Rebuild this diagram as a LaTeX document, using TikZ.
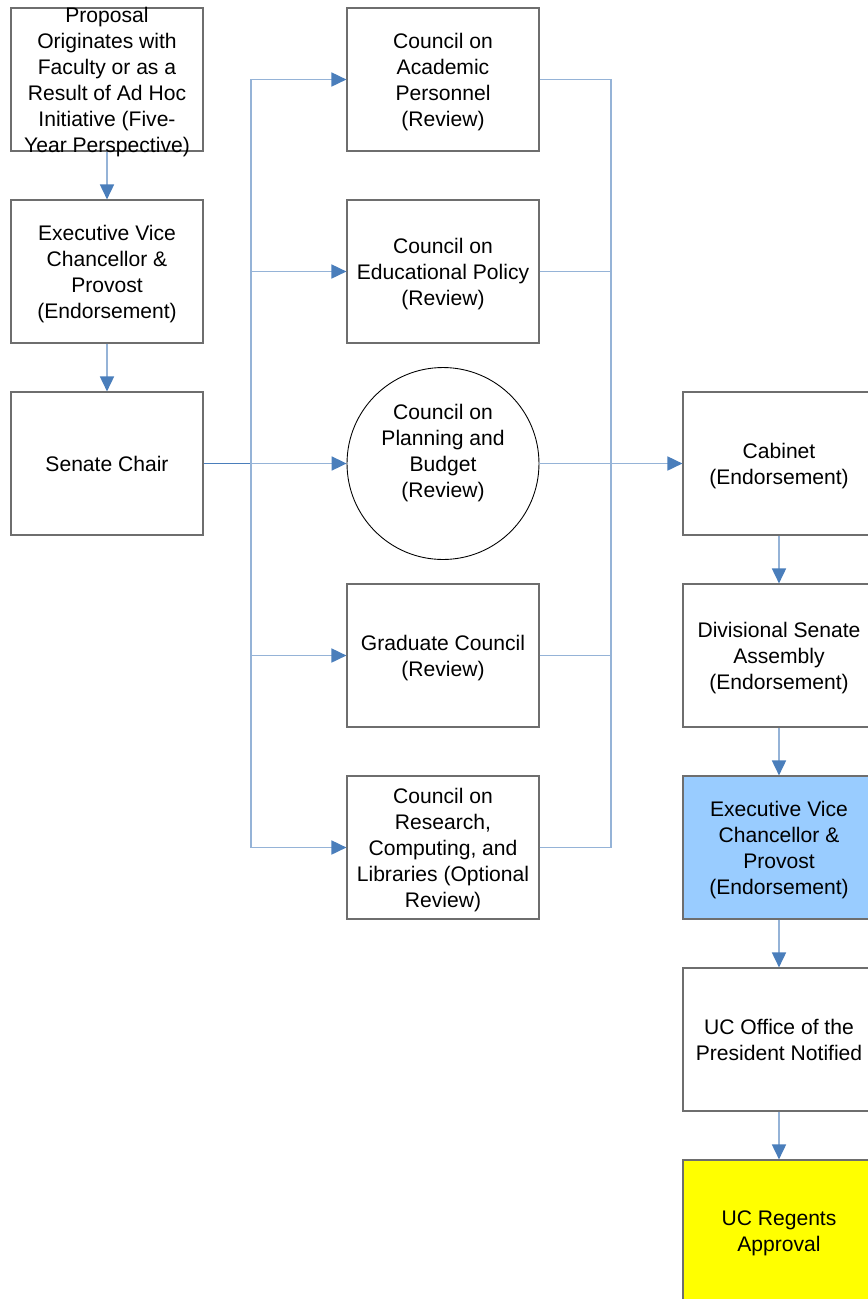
\documentclass[tikz,border=0pt]{standalone}
\usepackage{fontspec}
\setmainfont{Liberation Sans}
\usetikzlibrary{arrows.meta}
\begin{document}
\begin{tikzpicture}[x=0.02cm, y=-0.02cm,
  box/.style={draw=BoxGray, line width=0.7pt, minimum width=3.84cm, minimum height=2.86cm,
    align=center, inner sep=2pt, text depth=0pt, font=\fontsize{12}{14.8}\selectfont},
  round/.style={box, circle, draw=black, line width=0.5pt, inner sep=0pt, minimum size=3.84cm},
  link/.style={draw=LineBlue, line width=0.8pt},
  arrow/.style={link, -{Triangle[length=8.5pt, width=8pt, color=HeadBlue]}}]
\definecolor{BoxGray}{RGB}{110, 110, 110}
\definecolor{LineBlue}{RGB}{149, 179, 215}
\definecolor{HeadBlue}{RGB}{74, 126, 187}
\definecolor{MyBlue}{RGB}{153, 204, 255}
\definecolor{MyYellow}{RGB}{255, 255, 0}
\useasboundingbox (0, 0) rectangle (868, 1299);
\clip (0, 0) rectangle (868, 1299);
% left column
\node[box, inner ysep=-3pt] (prop) at (107, 79.5) {Proposal\\Originates with\\Faculty or as a\\Result of Ad Hoc\\Initiative (Five-\\Year Perspective)};
\node[box] (evc1) at (107, 271.5) {Executive Vice\\Chancellor \&\\Provost\\(Endorsement)};
\node[box] (chair) at (107, 463.5) {Senate Chair};
% councils
\node[box] (cap) at (443, 79.5) {Council on\\Academic\\Personnel\\(Review)};
\node[box] (cep) at (443, 271.5) {Council on\\Educational Policy\\(Review)};
\node[round] (cpb) at (443, 463.5) {Council on\\Planning and\\Budget\\(Review)\\~};
\node[box] (grad) at (443, 655.5) {Graduate Council\\(Review)};
\node[box] (crcl) at (443, 847.5) {Council on\\Research,\\Computing, and\\Libraries (Optional\\Review)};
% right column
\node[box] (cab) at (779, 463.5) {Cabinet\\(Endorsement)};
\node[box] (dsa) at (779, 655.5) {Divisional Senate\\Assembly\\(Endorsement)};
\node[box, fill=MyBlue] (evc2) at (779, 847.5) {Executive Vice\\Chancellor \&\\Provost\\(Endorsement)};
\node[box] (ucop) at (779, 1039.5) {UC Office of the\\President Notified};
\node[box, fill=MyYellow] (regents) at (779, 1231.5) {UC Regents\\Approval};
\coordinate (split) at (251, 463.5);
\coordinate (join) at (611, 463.5);
% connectors
\draw[arrow] (prop) -- (evc1);
\draw[arrow] (evc1) -- (chair);
\draw[link, draw=HeadBlue] (chair) -- (split);
\foreach \n in {cap, cep, cpb, grad, crcl}{
\draw[arrow] (split) |- (\n);
}
\foreach \n in {cap, cep, grad, crcl}{
\draw[link] (\n) -| (join);
}
\draw[arrow] (cpb) -- (cab);
\foreach \a/\b in {cab/dsa, dsa/evc2, evc2/ucop, ucop/regents}{
\draw[arrow] (\a) -- (\b);
}
\end{tikzpicture}
\end{document}
